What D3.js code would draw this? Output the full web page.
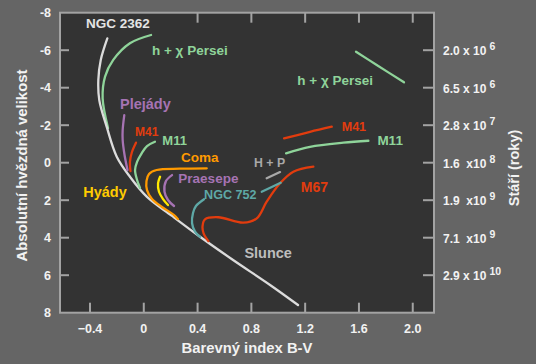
<!DOCTYPE html>
<html>
<head>
<meta charset="utf-8">
<script src="https://cdn.jsdelivr.net/npm/d3@7"></script>
<style>
    html, body { margin: 0; padding: 0; background: #656565; }
    svg { display: block; }
    text { font-family: "Liberation Sans", Arial, sans-serif; font-weight: bold; }
</style>
</head>
<body>
<div id="chart"></div>
<script>
// B-V ticks and magnitude ticks
var xTicks = [-0.4, 0, 0.4, 0.8, 1.2, 1.6, 2.0];
var xTopTicks = [0.4, 0.8, 1.2, 1.6, 2.0];
var yTicks = [-8, -6, -4, -2, 0, 2, 4, 6, 8];
var ageTicks = [-6, -4, -2, 0, 2, 4, 6];
var ageMantissa = ["2.0 x 10", "6.5 x 10", "2.8 x 10", "1.6  x10", "1.9  x10", "7.1  x10", "2.9 x 10"];
var ageExponent = ["6", "6", "7", "8", "9", "9", "10"];

// curves, [B-V, M]
var ngc2362 = [[-0.271, -6.63], [-0.320, -5.48], [-0.338, -4.41], [-0.331, -3.34], [-0.276, -1.92],
    [-0.201, -0.32], [-0.103, 0.75], [0.022, 1.81], [0.210, 2.84], [0.418, 3.95], [0.664, 5.19],
    [0.939, 6.52], [1.147, 7.59]];
var hPersei = [[0.054, -6.81], [-0.103, -6.37], [-0.227, -5.48], [-0.288, -4.59], [-0.306, -3.43], [-0.266, -1.85]];
var hPerseiGiants = [[1.578, -5.92], [1.732, -5.21], [1.935, -4.29]];
var pleiades = [[-0.145, -2.54], [-0.157, -1.74], [-0.157, -1.21], [-0.143, -0.41], [-0.121, 0.39]];
var m41 = [[-0.058, -1.07], [-0.088, -0.57], [-0.103, -0.04], [-0.099, 0.45]];
var m41Giants = [[1.043, -1.30], [1.236, -1.65], [1.398, -1.92]];
var m11 = [[0.083, -1.12], [0.024, -0.89], [-0.016, -0.50], [-0.050, -0.04], [-0.065, 0.39], [-0.050, 0.92], [-0.028, 1.35]];
var m11Giants = [[1.058, -0.50], [1.236, -0.85], [1.484, -1.07], [1.670, -1.17]];
var coma = [[0.468, 0.30], [0.269, 0.32], [0.096, 0.39], [0.039, 0.60], [0.020, 0.98], [0.024, 1.46],
    [0.061, 1.94], [0.135, 2.36], [0.225, 2.79], [0.254, 3.01]];
var hyades = [[0.121, 0.75], [0.106, 1.10], [0.113, 1.55], [0.143, 1.94], [0.180, 2.26]];
var praesepe = [[0.210, 0.66], [0.165, 0.98], [0.154, 1.55], [0.180, 1.99], [0.225, 2.31]];
var ngc752 = [[0.448, 1.95], [0.388, 2.31], [0.366, 2.68], [0.359, 3.23], [0.381, 3.68], [0.418, 3.96]];
var ngc752Giants = [[0.877, 1.55], [1.018, 1.07]];
var hp = [[0.914, 0.83], [1.013, 0.50]];
var m67 = [[0.480, 4.18], [0.444, 3.75], [0.437, 3.38], [0.455, 3.02], [0.554, 2.91], [0.740, 3.20],
    [0.840, 2.97], [0.914, 2.08], [1.013, 1.10], [1.112, 0.48], [1.261, 0.21]];

(function () {
    var width = 536;
    var height = 364;
    var left = 60, right = 434, top = 12.7, bottom = 312.7;

    var svg = d3.select("#chart").append("svg")
        .attr("width", width)
        .attr("height", height);

    svg.append("rect")
        .attr("width", width)
        .attr("height", height)
        .attr("fill", "#656565");

    var x = d3.scaleLinear().domain([-0.623, 2.158]).range([left, right]);
    var y = d3.scaleLinear().domain([-8, 8]).range([top, bottom]);

    svg.append("rect")
        .attr("x", left)
        .attr("y", top)
        .attr("width", right - left)
        .attr("height", bottom - top)
        .attr("fill", "#333333")
        .attr("stroke", "#a3a3a3")
        .attr("stroke-width", 2);

    // ticks point into the plot
    var tickColor = "#a3a3a3";
    var g = svg.append("g");
    g.selectAll(".xb").data(xTicks).enter().append("line")
        .attr("x1", x).attr("x2", x)
        .attr("y1", bottom).attr("y2", bottom - 10)
        .attr("stroke", tickColor).attr("stroke-width", 2);
    g.selectAll(".xt").data(xTopTicks).enter().append("line")
        .attr("x1", x).attr("x2", x)
        .attr("y1", top).attr("y2", top + 10)
        .attr("stroke", tickColor).attr("stroke-width", 2);
    g.selectAll(".yl").data(yTicks.slice(1, -1)).enter().append("line")
        .attr("x1", left).attr("x2", left + 9)
        .attr("y1", y).attr("y2", y)
        .attr("stroke", tickColor).attr("stroke-width", 2);
    g.selectAll(".yr").data(ageTicks).enter().append("line")
        .attr("x1", right - 11).attr("x2", right)
        .attr("y1", y).attr("y2", y)
        .attr("stroke", tickColor).attr("stroke-width", 2);

    var labelColor = "#f2f2f2";
    g.selectAll(".xl").data(xTicks).enter().append("text")
        .attr("x", x)
        .attr("y", 333)
        .attr("text-anchor", "middle")
        .attr("font-size", 12.5)
        .attr("fill", labelColor)
        .text(function (d) { return d === 0 ? "0" : d3.format(".1f")(d); });

    g.selectAll(".yt").data(yTicks).enter().append("text")
        .attr("x", 51)
        .attr("y", function (d) { return y(d) + 4.5; })
        .attr("text-anchor", "end")
        .attr("font-size", 12.5)
        .attr("fill", labelColor)
        .text(function (d) { return d; });

    var age = g.selectAll(".age").data(ageTicks).enter().append("text")
        .attr("x", 443)
        .attr("y", function (d) { return y(d) + 5; })
        .attr("font-size", 12)
        .attr("fill", labelColor)
        .attr("xml:space", "preserve");
    age.append("tspan").text(function (d, i) { return ageMantissa[i]; });
    age.append("tspan")
        .attr("dx", 3)
        .attr("dy", -5)
        .attr("font-size", 10.5)
        .text(function (d, i) { return ageExponent[i]; });

    svg.append("text")
        .attr("x", 247)
        .attr("y", 353)
        .attr("text-anchor", "middle")
        .attr("font-size", 14.8)
        .attr("fill", labelColor)
        .text("Barevný index B-V");

    svg.append("text")
        .attr("transform", "translate(27,165.5) rotate(-90)")
        .attr("text-anchor", "middle")
        .attr("font-size", 14.9)
        .attr("fill", labelColor)
        .text("Absolutní hvězdná velikost");

    svg.append("text")
        .attr("transform", "translate(519,168) rotate(-90)")
        .attr("text-anchor", "middle")
        .attr("font-size", 14.5)
        .attr("fill", labelColor)
        .text("Stáří (roky)");

    var line = d3.line()
        .x(function (d) { return x(d[0]); })
        .y(function (d) { return y(d[1]); })
        .curve(d3.curveCatmullRom.alpha(0.5));

    var curves = [
        {data: hPersei, color: "#8fd49a"},
        {data: ngc2362, color: "#dcdcdc"},
        {data: pleiades, color: "#a673b3"},
        {data: m41, color: "#e23c0e"},
        {data: m11, color: "#8fd49a"},
        {data: coma, color: "#ff9a00"},
        {data: hyades, color: "#ffe800"},
        {data: praesepe, color: "#a673b3"},
        {data: ngc752, color: "#5ea8a6"},
        {data: m67, color: "#e23c0e"},
        {data: ngc752Giants, color: "#5ea8a6"},
        {data: hp, color: "#a8a8a8"},
        {data: m11Giants, color: "#8fd49a"},
        {data: m41Giants, color: "#e23c0e"},
        {data: hPerseiGiants, color: "#8fd49a"}
    ];

    svg.append("g").selectAll("path")
        .data(curves)
        .enter().append("path")
        .attr("d", function (d) { return line(d.data); })
        .attr("fill", "none")
        .attr("stroke", function (d) { return d.color; })
        .attr("stroke-width", 2.3)
        .attr("stroke-linecap", "round");

    // cluster names, anchored at B-V / M of their lower left corner
    var names = [
        {t: "NGC 2362", bv: -0.430, m: -7.16, s: 13.5, c: "#e4e4e4"},
        {t: "h + χ Persei", bv: 0.061, m: -5.74, s: 13.5, c: "#8fd49a"},
        {t: "Plejády", bv: -0.177, m: -2.86, s: 14.5, c: "#a673b3"},
        {t: "M41", bv: -0.065, m: -1.44, s: 12, c: "#e23c0e"},
        {t: "M11", bv: 0.138, m: -0.92, s: 13, c: "#8fd49a"},
        {t: "Coma", bv: 0.277, m: -0.05, s: 13.5, c: "#ff9a00"},
        {t: "Praesepe", bv: 0.257, m: 1.07, s: 13.5, c: "#a673b3"},
        {t: "Hyády", bv: -0.450, m: 1.85, s: 14.5, c: "#ffcc00"},
        {t: "NGC 752", bv: 0.448, m: 1.95, s: 12.6, c: "#5ea8a6"},
        {t: "H + P", bv: 0.820, m: 0.25, s: 12.3, c: "#a8a8a8"},
        {t: "M67", bv: 1.167, m: 1.55, s: 14, c: "#e23c0e"},
        {t: "Slunce", bv: 0.748, m: 5.10, s: 14.5, c: "#bdbdbd"},
        {t: "M41", bv: 1.472, m: -1.71, s: 12.5, c: "#e23c0e"},
        {t: "M11", bv: 1.737, m: -0.94, s: 13.5, c: "#8fd49a"},
        {t: "h + χ Persei", bv: 1.142, m: -4.14, s: 13.5, c: "#8fd49a"}
    ];

    svg.append("g").selectAll("text")
        .data(names)
        .enter().append("text")
        .attr("x", function (d) { return x(d.bv); })
        .attr("y", function (d) { return y(d.m); })
        .attr("font-size", function (d) { return d.s; })
        .attr("fill", function (d) { return d.c; })
        .text(function (d) { return d.t; });
})();
</script>
</body>
</html>
